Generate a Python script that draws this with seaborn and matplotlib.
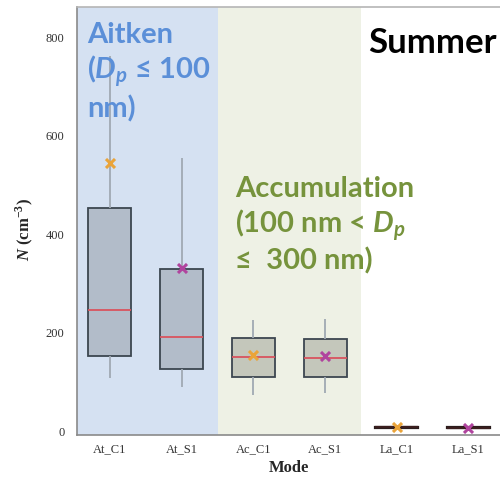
import numpy as np
import pandas as pd
import matplotlib
matplotlib.use("Agg")
import matplotlib.pyplot as plt
import seaborn as sns

# modes on the x axis
modes = ["At_C1", "At_S1", "Ac_C1", "Ac_S1", "La_C1", "La_S1"]
sites = ["C1", "S1", "C1", "S1", "C1", "S1"]

# five-number summaries (whisker low, Q1, median, Q3, whisker high)
whisker_low = [108, 89, 73, 77, 6, 5]
q1 = [152, 126, 110, 110, 7, 6]
median = [246, 191, 150, 148, 8, 7]
q3 = [453, 329, 189, 187, 9, 8]
whisker_high = [761, 554, 225, 227, 10, 9]

# mean markers
means = [544, 331, 155, 152, 8, 7]

rows = []
for i, m in enumerate(modes):
    for v in (whisker_low[i], q1[i], median[i], q3[i], whisker_high[i]):
        rows.append({"Mode": m, "N": v})
df = pd.DataFrame(rows)
mean_df = pd.DataFrame({"Mode": modes, "N": means, "Site": sites})

sns.set_style("white")
plt.rcParams["mathtext.fontset"] = "custom"
plt.rcParams["mathtext.it"] = "Lato:italic:bold"
plt.rcParams["mathtext.rm"] = "Liberation Serif:bold"
plt.rcParams["mathtext.sf"] = "Liberation Serif:italic:bold"

fig = plt.figure(figsize=(5, 4.78), dpi=100)
ax = fig.add_axes([77 / 500, 1 - 435 / 478, 423 / 500, 428 / 478])

# shaded mode bands
ax.axvspan(-0.5, 1.5, color="#d5e1f2", zorder=0, lw=0)
ax.axvspan(1.5, 3.5, color="#eef1e5", zorder=0, lw=0)

box_pal = {"At_C1": "#aebccd", "At_S1": "#aebccd", "Ac_C1": "#c5c9b9",
           "Ac_S1": "#c5c9b9", "La_C1": "#2a1c1c", "La_S1": "#3a1e1e"}

small = df["Mode"].str.startswith("La")
sns.boxplot(data=df[~small], x="Mode", y="N", hue="Mode", order=modes,
            hue_order=modes, palette=box_pal,
            dodge=False, width=0.6, whis=np.inf, showcaps=False, legend=False,
            linecolor="#3c4650", linewidth=1.3,
            medianprops=dict(color="#d9535e", linewidth=1.3),
            whiskerprops=dict(color="#a0a9b3", linewidth=1.3),
            ax=ax, zorder=2)
sns.boxplot(data=df[small], x="Mode", y="N", hue="Mode", order=modes,
            hue_order=modes, palette=box_pal,
            dodge=False, width=0.6, whis=np.inf, showcaps=False, legend=False,
            linecolor="#2a1c1c", linewidth=1.6,
            medianprops=dict(color="#3a1e1e", linewidth=1.6),
            ax=ax, zorder=2)

sns.stripplot(data=mean_df, x="Mode", y="N", hue="Site", order=modes,
              palette={"C1": "#eaa43a", "S1": "#b0449e"}, jitter=False,
              marker="x", s=6.5, linewidth=2.2, legend=False, ax=ax, zorder=5)

ax.set_xlim(-0.46, 5.44)
ax.set_ylim(-8, 861)
ax.set_yticks([0, 200, 400, 600, 800])
ax.set_xticks(range(len(modes)))
ax.set_xticklabels(modes)
ax.set_xticks(np.arange(0.5, 5, 1), minor=True)
ax.tick_params(axis="x", which="major", length=0, pad=6)
ax.tick_params(axis="x", which="minor", length=6, color="#b0b0b0", width=1)
ax.tick_params(axis="y", length=6, color="#909090", width=1, pad=3)
for lab in ax.get_xticklabels() + ax.get_yticklabels():
    lab.set_family("Liberation Serif")
    lab.set_fontsize(9)
    lab.set_color("#333333")

for side in ["left", "bottom", "top"]:
    ax.spines[side].set_color("#8a8a8a")
    ax.spines[side].set_linewidth(1.2)
ax.spines["top"].set_color("#b5b5b5")
ax.spines["right"].set_visible(False)

ax.set_xlabel("Mode", family="Liberation Serif", fontweight="bold", fontsize=12)
ax.xaxis.set_label_coords(0.501, -0.086)
ax.xaxis.label.set_va("baseline")
ax.set_ylabel(r"$\mathsf{N}$ (cm$^{-3}$)", family="Liberation Serif",
              fontweight="bold", fontsize=12)
ax.yaxis.set_label_coords(-0.1, 0.481)

big = dict(family="Lato", fontweight="bold", fontsize=21, va="baseline",
           transform=ax.transAxes)
blue = "#5b8fd8"
green = "#76933c"
ax.text(0.024, 0.916, "Aitken", color=blue, **big)
ax.text(0.024, 0.832, "($D_p$ ≤ 100", color=blue, **big)
ax.text(0.024, 0.743, "nm)", color=blue, **big)
ax.text(0.3735, 0.556, "Accumulation", color=green, **big)
ax.text(0.3735, 0.472, "(100 nm < $D_p$", color=green, **big)
ax.text(0.3735, 0.386, "≤  300 nm)", color=green, **big)
big["fontsize"] = 25
ax.text(0.688, 0.893, "Summer", color="black", **big)

fig.savefig("out.png", dpi=100)
